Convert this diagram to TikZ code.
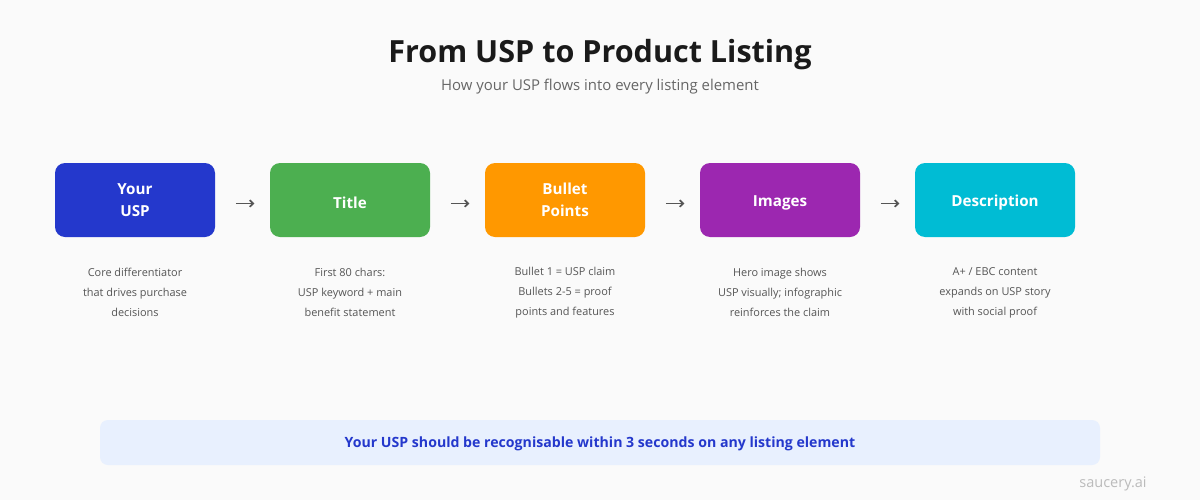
\documentclass[tikz,border=0pt]{standalone}
\usepackage{fontspec}
\setmainfont{Open Sans}
\usetikzlibrary{arrows.meta}
\definecolor{bgcol}{HTML}{FAFAFA}
\definecolor{uspblue}{HTML}{2438CC}
\definecolor{titlegreen}{HTML}{4CAF50}
\definecolor{bulletorange}{HTML}{FF9800}
\definecolor{imgpurple}{HTML}{9C27B0}
\definecolor{desccyan}{HTML}{00BCD4}
\definecolor{bannerfill}{HTML}{E8F0FE}
\definecolor{textgray}{HTML}{555555}
\tikzset{
  stagebox/.style={rounded corners=7.5pt, minimum width=120pt, minimum height=55.5pt,
    text=white, font=\fontsize{11.4}{16.5}\selectfont\bfseries, align=center, inner sep=0pt,
    execute at begin node={\rule{0pt}{13pt}}},
  stagenote/.style={text=textgray, font=\fontsize{8.2}{15}\selectfont, align=center},
  flowarrow/.style={draw=textgray, line width=1.3pt, -{Straight Barb[length=2.6pt,width=5pt]},
    shorten <=15.5pt, shorten >=11.5pt}
}
\begin{document}
\begin{tikzpicture}[x=0.75pt,y=-0.75pt]
            \fill[bgcol](0,0)rectangle (1200,500);
            \useasboundingbox(0,0)rectangle (1200,500);

            \node(heading) at (600,55){\fontsize{22.9}{27}\selectfont\bfseries\color[HTML]{1A1A1A}From USP to Product Listing};
            \node(subheading) at (600,87){\fontsize{11.2}{14}\selectfont\color[HTML]{666666}How your USP flows into every listing element};

            \node[stagebox,fill=uspblue](usp) at (135,200){Your\\USP};
            \node[stagebox,fill=titlegreen](title) at (350,200){Title};
            \node[stagebox,fill=bulletorange](bullets) at (565,200){Bullet\\Points};
            \node[stagebox,fill=imgpurple](images) at (780,200){Images};
            \node[stagebox,fill=desccyan](description) at (995,200){Description};

            \draw[flowarrow]([yshift=-2.6pt]usp.east)--([yshift=-2.6pt]title.west);
            \draw[flowarrow]([yshift=-2.6pt]title.east)--([yshift=-2.6pt]bullets.west);
            \draw[flowarrow]([yshift=-2.6pt]bullets.east)--([yshift=-2.6pt]images.west);
            \draw[flowarrow]([yshift=-2.6pt]images.east)--([yshift=-2.6pt]description.west);

            \node[stagenote](uspnote) at (135,292.5){Core differentiator\\that drives purchase\\decisions};
            \node[stagenote](titlenote) at (350,292.5){First 80 chars:\\USP keyword + main\\benefit statement};
            \node[stagenote](bulletsnote) at (565,292.5){Bullet 1 = USP claim\\Bullets 2-5 = proof\\points and features};
            \node[stagenote](imagesnote) at (780,292.5){Hero image shows\\USP visually; infographic\\reinforces the claim};
            \node[stagenote](descriptionnote) at (995,292.5){A+ / EBC content\\expands on USP story\\with social proof};

            \fill[bannerfill,rounded corners=6pt](100,420)rectangle (1100,465);
            \node(banner) at (600,443.5){\fontsize{10.6}{13}\selectfont\bfseries\color{uspblue}Your USP should be recognisable within 3 seconds on any listing element};

            \node(watermark) at (1113,484){\fontsize{10.9}{13}\selectfont\color[HTML]{BBBBBB}saucery.ai};
        \end{tikzpicture}
\end{document}
